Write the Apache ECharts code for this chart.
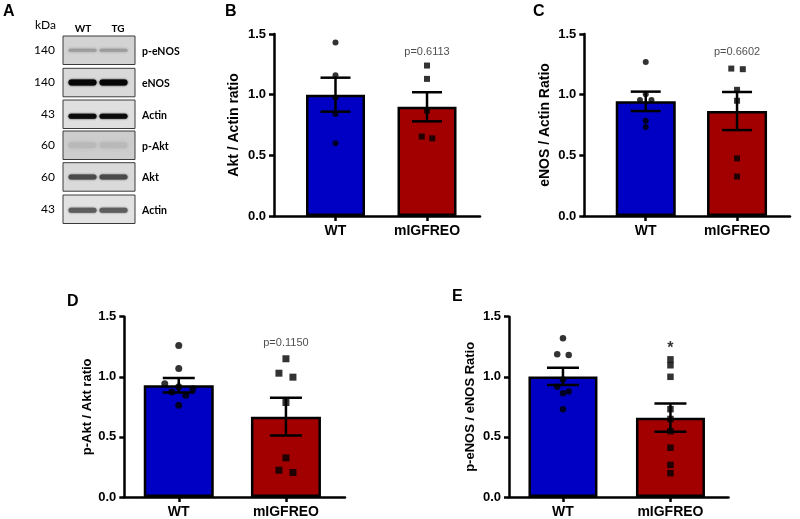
<!DOCTYPE html>
<html><head><meta charset="utf-8">
<script src="https://cdn.jsdelivr.net/npm/echarts@6/dist/echarts.min.js"></script>
<style>html,body{margin:0;padding:0;background:#fff}#c{width:800px;height:519px}</style>
</head><body><div id="c"></div>
<script>
// ---------------- data ----------------
const groups = ['WT', 'mIGFREO'];
const yTicks = [0, 0.5, 1.0, 1.5];

// Panel B: Akt / Actin
const aktWT = [1.43, 1.16, 0.975, 0.84, 0.60];
const aktTG = [1.24, 1.13, 0.87, 0.655, 0.64];
const aktMean = [1.00, 0.90];
const aktSem = [0.14, 0.12];
const aktNote = 'p=0.6113';

// Panel C: eNOS / Actin
const enosWT = [1.27, 1.003, 0.956, 0.956, 0.785, 0.733];
const enosTG = [1.215, 1.21, 1.04, 0.95, 0.475, 0.325];
const enosMean = [0.945, 0.865];
const enosSem = [0.08, 0.157];
const enosNote = 'p=0.6602';

// Panel D: p-Akt / Akt
const pAktWT = [1.26, 1.07, 0.943, 0.918, 0.90, 0.874, 0.846, 0.764];
const pAktTG = [1.15, 1.03, 0.997, 0.786, 0.325, 0.223, 0.204];
const pAktMean = [0.93, 0.668];
const pAktSem = [0.06, 0.157];
const pAktNote = 'p=0.1150';

// Panel E: p-eNOS / eNOS
const pEnosWT = [1.32, 1.187, 1.182, 0.978, 0.918, 0.877, 0.863, 0.73];
const pEnosTG = [1.145, 1.096, 1.0, 0.731, 0.649, 0.547, 0.41, 0.267, 0.198];
const pEnosMean = [1.003, 0.66];
const pEnosSem = [0.072, 0.118];
const pEnosNote = '*';

// Panel A: western blot labels
const blotTargets = ['p-eNOS', 'eNOS', 'Actin', 'p-Akt', 'Akt', 'Actin'];
const blotKDa = ['140', '140', '43', '60', '60', '43'];
const blotLanes = ['WT', 'TG'];

// ---------------- layout / style ----------------
const FONT = '"Liberation Sans", Arial, sans-serif';
const BLUE = '#0000c4';
const RED = '#a20000';

const panels = [
  {wt: aktWT, tg: aktTG, mean: aktMean, sem: aktSem, note: aktNote, noteY: 1.354,
   title: 'Akt / Actin ratio', left: 274, top: 34, width: 206, height: 182, xmin: 0.328, xmax: 2.579,
   barW: 59, sym: 6, spread: 10.5, capW: 30, titleSize: 14, nameGap: 33},
  {wt: enosWT, tg: enosTG, mean: enosMean, sem: enosSem, note: enosNote, noteY: 1.354,
   title: 'eNOS / Actin Ratio', left: 584.3, top: 34, width: 205.7, height: 182, xmin: 0.327, xmax: 2.58,
   barW: 60, sym: 6, spread: 11.5, capW: 30, titleSize: 14, nameGap: 32},
  {wt: pAktWT, tg: pAktTG, mean: pAktMean, sem: pAktSem, note: pAktNote, noteY: 1.281,
   title: 'p-Akt / Akt ratio', left: 124.3, top: 316.7, width: 220.7, height: 182, xmin: 0.492, xmax: 2.551,
   barW: 70, sym: 7, spread: 14, capW: 32, titleSize: 13, nameGap: 29},
  {wt: pEnosWT, tg: pEnosTG, mean: pEnosMean, sem: pEnosSem, note: pEnosNote, noteY: 1.238,
   title: 'p-eNOS / eNOS Ratio', left: 509, top: 316.7, width: 219.5, height: 182, xmin: 0.498, xmax: 2.54,
   barW: 69, sym: 6.5, spread: 11.5, capW: 32, titleSize: 13, nameGap: 32}
];

// row-based swarm like GraphPad: points within a row are centered symmetrically
function swarm(vals, p) {
  const pxPerY = p.height / 1.5;
  const pxPerX = p.width / (p.xmax - p.xmin);
  const idx = vals.map((v, i) => i).sort((a, b) => vals[b] - vals[a]);
  const off = new Array(vals.length).fill(0);
  let row = [];
  const flush = () => {
    row.forEach((i, j) => { off[i] = (j - (row.length - 1) / 2) * p.spread / pxPerX; });
    row = [];
  };
  idx.forEach(i => {
    if (row.length && (vals[row[0]] - vals[i]) * pxPerY > p.sym * 0.8) flush();
    row.push(i);
  });
  flush();
  return off;
}

const axisColor = '#000';
const grid = [], xAxis = [], yAxis = [], series = [];
panels.forEach((p, i) => {
  grid.push({left: p.left, top: p.top, width: p.width, height: p.height});
  xAxis.push({
    gridIndex: i, type: 'value', min: p.xmin, max: p.xmax,
    splitLine: {show: false},
    axisLine: {lineStyle: {color: axisColor, width: 2.5}},
    axisTick: {customValues: [1, 2], length: 5, lineStyle: {color: axisColor, width: 2.5}},
    axisLabel: {customValues: [1, 2], formatter: v => groups[Math.round(v) - 1], color: '#000',
      fontFamily: FONT, fontWeight: 'bold', fontSize: 14, margin: 8}
  });
  yAxis.push({
    gridIndex: i, type: 'value', min: yTicks[0], max: yTicks[yTicks.length - 1], interval: 0.5,
    splitLine: {show: false},
    axisLine: {show: true, onZero: false, lineStyle: {color: axisColor, width: 2.5}},
    axisTick: {show: true, length: 5, lineStyle: {color: axisColor, width: 2.5}},
    axisLabel: {formatter: v => v.toFixed(1), color: '#000', fontFamily: FONT, fontWeight: 'bold', fontSize: 13, margin: 8},
    name: p.title, nameLocation: 'middle', nameGap: p.nameGap, nameRotate: 90,
    nameTextStyle: {color: '#000', fontFamily: FONT, fontWeight: 'bold', fontSize: p.titleSize}
  });
  series.push({
    type: 'bar', xAxisIndex: i, yAxisIndex: i, barWidth: p.barW, z: 2,
    itemStyle: {borderColor: '#000', borderWidth: 2.5},
    data: [{value: [1, p.mean[0]], itemStyle: {color: BLUE}}, {value: [2, p.mean[1]], itemStyle: {color: RED}}]
  });
  const ow = swarm(p.wt, p), ot = swarm(p.tg, p);
  series.push({
    type: 'scatter', xAxisIndex: i, yAxisIndex: i, symbol: 'circle', symbolSize: p.sym, z: 4,
    itemStyle: {color: '#000'}, data: p.wt.map((v, k) => [1 + ow[k], v])
  });
  series.push({
    type: 'scatter', xAxisIndex: i, yAxisIndex: i, symbol: 'rect', symbolSize: p.sym, z: 4,
    itemStyle: {color: '#000'}, data: p.tg.map((v, k) => [2 + ot[k], v])
  });
  series.push({
    type: 'custom', xAxisIndex: i, yAxisIndex: i, z: 5,
    data: p.mean.map((m, k) => [k + 1, m - p.sem[k], m + p.sem[k]]),
    renderItem: (params, api) => {
      const lo = api.coord([api.value(0), api.value(1)]);
      const hi = api.coord([api.value(0), api.value(2)]);
      const hw = p.capW / 2;
      const st = {stroke: '#000', lineWidth: 2.5};
      return {type: 'group', children: [
        {type: 'line', shape: {x1: lo[0], y1: lo[1], x2: hi[0], y2: hi[1]}, style: st},
        {type: 'line', shape: {x1: hi[0] - hw, y1: hi[1], x2: hi[0] + hw, y2: hi[1]}, style: st},
        {type: 'line', shape: {x1: lo[0] - hw, y1: lo[1], x2: lo[0] + hw, y2: lo[1]}, style: st}
      ]};
    }
  });
  const isStar = p.note === '*';
  series.push({
    type: 'scatter', xAxisIndex: i, yAxisIndex: i, symbolSize: 1, silent: true, z: 6,
    itemStyle: {color: 'rgba(0,0,0,0)'},
    data: [[2, p.noteY]],
    label: {show: true, position: 'inside', formatter: () => p.note,
      color: isStar ? '#000' : '#1e1e1e', fontFamily: FONT,
      fontSize: isStar ? 16 : 11, fontWeight: isStar ? 'bold' : 'normal'}
  });
});

// ---------------- panel A graphic (western blot) ----------------
const BLOT_FONT = 'Lato, "Open Sans", sans-serif';
const boxTops = [36, 68.3, 100, 131, 162.7, 195];
const boxH = 28.5, boxL = 63, boxW = 72;
const rowStyle = [
  {bg: '#d3d3d3', band: '#9c9c9c', h: 3, blur: 3, dy: 0},
  {bg: '#d9d9d9', band: '#060606', h: 6, blur: 2, dy: 0},
  {bg: '#dfdfdf', band: '#0b0b0b', h: 5, blur: 2, dy: 2},
  {bg: '#cdcdcd', band: '#b9b9b9', h: 6, blur: 4, dy: 0},
  {bg: '#dadada', band: '#4a4a4a', h: 5, blur: 2, dy: 0},
  {bg: '#e2e2e2', band: '#5e5e5e', h: 5, blur: 2, dy: 1}
];
const laneCenters = [82.5, 113.5];
const laneW = 28;
const g = [];
const letters = [['A', 3, 4], ['B', 225, 4], ['C', 533, 4], ['D', 67, 294], ['E', 452, 289]];
letters.forEach(([t, x, y]) => g.push({type: 'text', left: x, top: y,
  style: {text: t, font: 'bold 16px ' + FONT, fill: '#000'}}));
g.push({type: 'text', x: 56, y: 25, style: {text: 'kDa', font: '12px ' + BLOT_FONT, fill: '#000', textAlign: 'right', textVerticalAlign: 'middle'}});
blotLanes.forEach((t, j) => g.push({type: 'text', x: [83, 118][j], y: 29,
  style: {text: t, font: 'bold 10px ' + BLOT_FONT, fill: '#000', textAlign: 'center', textVerticalAlign: 'middle'}}));
boxTops.forEach((top, r) => {
  const s = rowStyle[r];
  const cy = top + boxH / 2;
  g.push({type: 'rect', shape: {x: boxL, y: top, width: boxW, height: boxH},
    style: {fill: s.bg, stroke: '#3a3a3a', lineWidth: 1}});
  laneCenters.forEach(cx => g.push({type: 'rect',
    shape: {x: cx - laneW / 2, y: cy + s.dy - s.h / 2, width: laneW, height: s.h, r: s.h / 2},
    style: {fill: s.band, shadowBlur: s.blur, shadowColor: s.band}}));
  g.push({type: 'text', x: 55, y: cy, style: {text: blotKDa[r], font: '12px ' + BLOT_FONT, fill: '#000', textAlign: 'right', textVerticalAlign: 'middle'}});
  g.push({type: 'text', x: 142, y: cy + 1, style: {text: blotTargets[r], font: 'bold 10.5px ' + BLOT_FONT, fill: '#000', textAlign: 'left', textVerticalAlign: 'middle'}});
});

const chart = echarts.init(document.getElementById('c'), null, {renderer: 'canvas'});
chart.setOption({animation: false, backgroundColor: '#fff', grid, xAxis, yAxis, series, graphic: g});
</script>
</body></html>
